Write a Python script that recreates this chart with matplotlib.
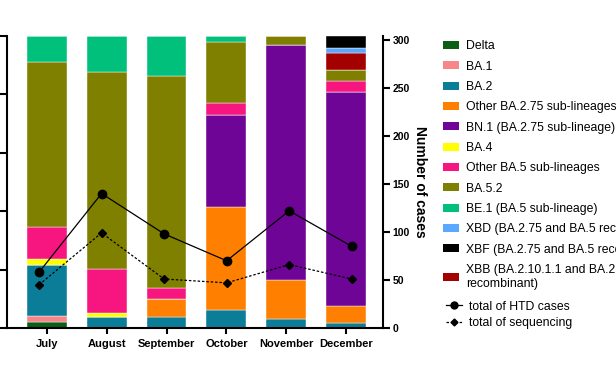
import matplotlib
matplotlib.use("Agg")
import matplotlib.pyplot as plt
import numpy as np
from matplotlib.patches import Patch
from matplotlib.lines import Line2D

plt.rcParams['font.family'] = ['Liberation Sans', 'DejaVu Sans']

months = ["July", "August", "September", "October", "November", "December"]

# share of sequenced samples per lineage (%), bottom to top of each bar
delta     = [2.0, 0, 0, 0, 0, 0]
ba1       = [2.2, 0, 0, 0, 0, 0]
ba2       = [17.3, 3.9, 3.9, 6.2, 3.0, 1.8]
ba275_oth = [0, 0, 5.9, 35.3, 13.4, 5.7]
bn1       = [0, 0, 0, 31.4, 80.5, 73.2]
ba4       = [2.2, 1.1, 0, 0, 0, 0]
ba5_oth   = [10.8, 15.3, 3.8, 4.1, 0, 3.9]
ba52      = [56.7, 67.4, 72.7, 20.8, 3.1, 3.8]
be1       = [8.8, 12.3, 13.7, 2.2, 0, 0]
xbb       = [0, 0, 0, 0, 0, 5.7]
xbd       = [0, 0, 0, 0, 0, 1.9]
xbf       = [0, 0, 0, 0, 0, 4.0]

# counts (right axis)
htd_cases  = [58, 140, 98, 70, 122, 85]
sequencing = [45, 99, 51, 47, 66, 51]

labels = {
    "delta": "Delta",
    "ba1": "BA.1",
    "ba2": "BA.2",
    "ba275_oth": "Other BA.2.75 sub-lineages",
    "bn1": "BN.1 (BA.2.75 sub-lineage)",
    "ba4": "BA.4",
    "ba5_oth": "Other BA.5 sub-lineages",
    "ba52": "BA.5.2",
    "be1": "BE.1 (BA.5 sub-lineage)",
    "xbd": "XBD (BA.2.75 and BA.5 recombinant)",
    "xbf": "XBF (BA.2.75 and BA.5 recombinant)",
    "xbb": "XBB (BA.2.10.1.1 and BA.2.75\nrecombinant)",
}
colors = {
    "delta": "#0b5e14",
    "ba1": "#f7868a",
    "ba2": "#0c7d98",
    "ba275_oth": "#ff8000",
    "bn1": "#6e0596",
    "ba4": "#ffff00",
    "ba5_oth": "#f7167f",
    "ba52": "#808000",
    "be1": "#00c07c",
    "xbd": "#5aa8ff",
    "xbf": "#000000",
    "xbb": "#a30000",
}
stack = [("delta", delta), ("ba1", ba1), ("ba2", ba2), ("ba275_oth", ba275_oth),
         ("bn1", bn1), ("ba4", ba4), ("ba5_oth", ba5_oth), ("ba52", ba52),
         ("be1", be1), ("xbb", xbb), ("xbd", xbd), ("xbf", xbf)]
legend_order = ["delta", "ba1", "ba2", "ba275_oth", "bn1", "ba4", "ba5_oth",
                "ba52", "be1", "xbd", "xbf", "xbb"]

fig = plt.figure(figsize=(6.16, 3.70), dpi=100)
pos = [6.5 / 616, 1 - 328 / 370, (383 - 6.5) / 616, (328 - 36) / 370]
ax = fig.add_axes(pos)

x = np.arange(len(months))
bottom = np.zeros(len(months))
for key, vals in stack:
    ax.bar(x, vals, 0.667, bottom=bottom, color=colors[key],
           edgecolor="white", linewidth=0.3, zorder=2)
    bottom += np.array(vals)

ax.set_xlim(-0.671, 5.614)
ax.set_ylim(0, 100)
ax.set_yticks(np.arange(0, 101, 20))
ax.tick_params(axis="y", direction="out", length=6, width=1.5, labelleft=False)
ax.set_xticks(x)
ax.set_xticklabels(months, fontsize=8, fontweight="bold")
ax.tick_params(axis="x", direction="out", length=4, width=1.5, pad=4)
for s in ["top", "right"]:
    ax.spines[s].set_visible(False)
for s in ["left", "bottom"]:
    ax.spines[s].set_linewidth(1.5)

# line overlay with its own x spacing
ax2 = fig.add_axes(pos)
ax2.patch.set_visible(False)
ax2.set_xlim(-0.52, 5.50)
ax2.set_ylim(0, 304)
ax2.plot(x, htd_cases, color="black", lw=0.9, marker="o", ms=6, zorder=3)
ax2.plot(x, sequencing, color="black", lw=0.9, ls=(0, (2, 1.5)), marker="D",
         ms=4, zorder=3)
ax2.set_xticks([])
for s in ["top", "left", "bottom"]:
    ax2.spines[s].set_visible(False)
ax2.spines["right"].set_linewidth(1.5)
ax2.yaxis.tick_right()
ax2.yaxis.set_label_position("right")
ax2.set_yticks(np.arange(0, 301, 50))
ax2.tick_params(axis="y", direction="out", length=5, width=1.5, pad=2,
                labelsize=7.5)
for t in ax2.get_yticklabels():
    t.set_fontweight("bold")
ax2.set_ylabel("Number of cases", rotation=270, fontsize=10, fontweight="bold",
               labelpad=12)

# lineage legend
handles = [Patch(facecolor=colors[k], label=labels[k]) for k in legend_order]
leg1 = fig.legend(handles=handles, loc="upper left",
                  bbox_to_anchor=(443 / 616, 1 - 40.4 / 370),
                  frameon=False, fontsize=8.8, handlelength=1.3, handleheight=0.65,
                  handletextpad=0.6, labelspacing=0.68, borderpad=0, borderaxespad=0)

# line legend
line_handles = [
    Line2D([], [], color="black", lw=0.9, marker="o", ms=5, label="total of HTD cases"),
    Line2D([], [], color="black", lw=0.9, ls=(0, (2, 1.5)), marker="D", ms=3.5,
           label="total of sequencing"),
]
fig.legend(handles=line_handles, loc="upper left",
           bbox_to_anchor=(446 / 616, 1 - 300.5 / 370),
           frameon=False, fontsize=8.8, handlelength=1.3,
           handletextpad=0.6, labelspacing=0.37, borderpad=0, borderaxespad=0)

fig.savefig("out.png", dpi=100)
